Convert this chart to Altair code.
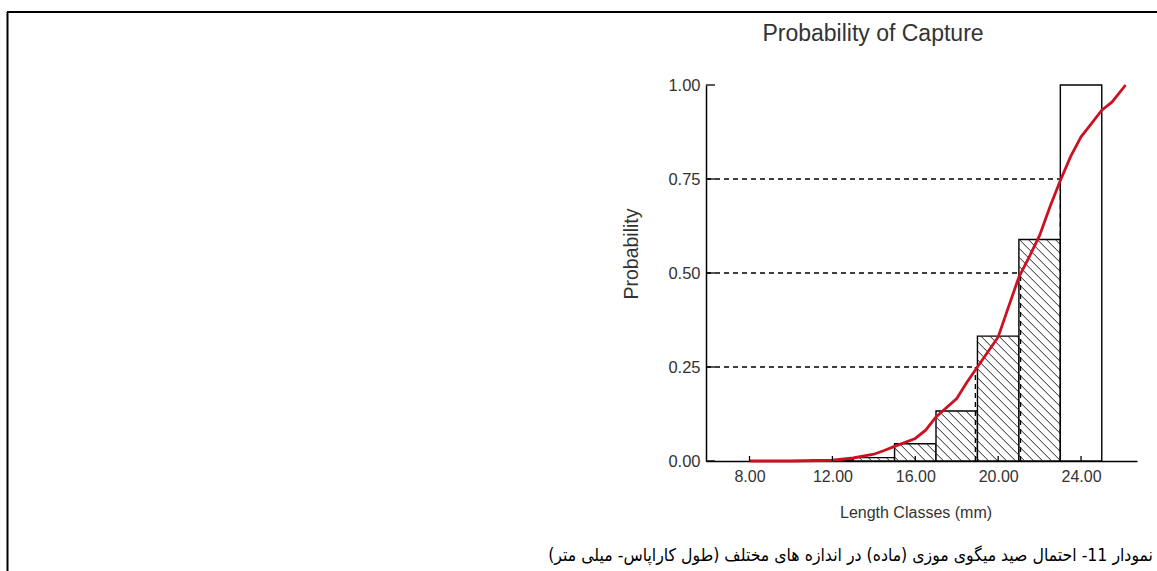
import altair as alt
import pandas as pd
import numpy as np

# Length classes (mm) and the fraction captured in each
class_lo = [11, 13, 15, 17, 19, 21, 23]
class_hi = [13, 15, 17, 19, 21, 23, 25]
capture_prob = [0.003, 0.009, 0.046, 0.133, 0.332, 0.589, 1.0]
is_hatched = [True, True, True, True, True, True, False]

# Fitted selection curve
curve_len = [8, 10, 12, 13, 14, 14.5, 15, 16, 16.5, 17, 18, 18.5, 19, 19.5, 20,
             20.5, 21, 21.5, 22, 22.5, 23, 23.5, 24, 24.5, 25, 25.5, 26.15]
curve_prob = [0, 0, 0.002, 0.008, 0.018, 0.028, 0.039, 0.06, 0.082, 0.117, 0.166,
              0.21, 0.25, 0.29, 0.33, 0.41, 0.489, 0.543, 0.60, 0.676, 0.746,
              0.81, 0.862, 0.897, 0.933, 0.955, 1.0]

# L25, L50, L75
level_prob = [0.25, 0.5, 0.75]
level_len = [18.9, 21.08, 23.0]

x_ticks = [8, 12, 16, 20, 24]
y_ticks = [0, 0.25, 0.5, 0.75, 1.0]

XMIN, XMAX = 5.9, 26.7
W, H = 431, 376
LEFT, TOP = 706, 85
FULL_W, FULL_H = 1157, 571
FONT = "Liberation Sans"
TXT = "#333333"

bars = pd.DataFrame({"lo": class_lo, "hi": class_hi, "p": capture_prob,
                     "hatch": is_hatched})
curve = pd.DataFrame({"len": curve_len, "p": curve_prob})

# diagonal hatch segments clipped to each hatched bar
px_per_mm = W / (XMAX - XMIN)
slope = px_per_mm / H          # probability per mm for a 45 degree line
step = 9 / px_per_mm           # spacing of hatch lines in mm
segs = []
for lo, hi, p, h in zip(class_lo, class_hi, capture_prob, is_hatched):
    if not h:
        continue
    k0 = int(np.floor(lo / step))
    k1 = int(np.ceil((hi + p / slope) / step))
    for k in range(k0, k1 + 1):
        t = k * step
        a = max(lo, t - p / slope)
        b = min(hi, t)
        if b - a > 1e-6:
            segs.append({"x": a, "y": slope * (t - a), "x2": b, "y2": slope * (t - b)})
hatch = pd.DataFrame(segs)

guides_h = pd.DataFrame({"x": [XMIN] * 3, "x2": level_len, "y": level_prob})
guides_v = pd.DataFrame({"x": level_len, "y": [0] * 3, "y2": level_prob})

xs = alt.Scale(domain=[XMIN, XMAX], nice=False, zero=False)
ys = alt.Scale(domain=[0, 1], nice=False)
xax = alt.Axis(values=x_ticks, format=".2f", ticks=False, grid=False, title=None,
               labelPadding=7, labelFontSize=16, labelColor=TXT, labelFont=FONT,
               domainColor="black", domainWidth=1.5, labelFlush=False)
yax = alt.Axis(values=y_ticks, format=".2f", ticks=False, grid=False, title=None,
               labelPadding=6, labelFontSize=16.5, labelColor=TXT, labelFont=FONT,
               domainColor="black", domainWidth=1.5)


def X(f):
    return alt.X(f, type="quantitative", scale=xs, axis=xax)


def Y(f):
    return alt.Y(f, type="quantitative", scale=ys, axis=yax)


bar_layer = alt.Chart(bars).mark_rect(fill="white", stroke="black", strokeWidth=1.4).encode(
    x=X("lo"), x2="hi", y=Y("p"), y2=alt.datum(0))

hatch_layer = alt.Chart(hatch).mark_rule(color="#222222", strokeWidth=1).encode(
    x=X("x"), x2="x2", y=Y("y"), y2="y2")

dash_h = alt.Chart(guides_h).mark_rule(color="black", strokeWidth=1.3, strokeDash=[5, 4]).encode(
    x=X("x"), x2="x2", y=Y("y"))
dash_v = alt.Chart(guides_v).mark_rule(color="black", strokeWidth=1.3, strokeDash=[5, 4]).encode(
    x=X("x"), y=Y("y"), y2="y2")

curve_layer = alt.Chart(curve).mark_line(color="#cc1122", strokeWidth=2.8).encode(
    x=X("len"), y=Y("p"))

ytick_layer = alt.Chart(pd.DataFrame({"v": y_ticks})).mark_rule(color="black", strokeWidth=1.3).encode(
    y=Y("v"), x=alt.value(0), x2=alt.value(9))
xtick_layer = alt.Chart(pd.DataFrame({"v": x_ticks})).mark_rule(color="black", strokeWidth=1.3).encode(
    x=X("v"), y=alt.value(H), y2=alt.value(H - 5))

title_layer = alt.Chart(pd.DataFrame({"t": [0]})).mark_text(
    text="Probability of Capture", font=FONT, fontSize=23, color=TXT,
    align="center", baseline="alphabetic").encode(
    x=alt.value(873 - LEFT), y=alt.value(41 - TOP))

ytitle_layer = alt.Chart(pd.DataFrame({"t": [0]})).mark_text(
    text="Probability", font=FONT, fontSize=19.5, color=TXT, angle=270,
    align="center", baseline="middle").encode(
    x=alt.value(632 - LEFT), y=alt.value(254 - TOP))

xtitle_layer = alt.Chart(pd.DataFrame({"t": [0]})).mark_text(
    text="Length Classes (mm)", font=FONT, fontSize=16, color=TXT,
    align="center", baseline="middle").encode(
    x=alt.value(916 - LEFT), y=alt.value(513 - TOP))

caption_text = "\u200fنمودار 11- احتمال صید میگوی موزی (ماده) در اندازه های مختلف (طول کاراپاس- میلی متر)\u200f"
caption_layer = alt.Chart(pd.DataFrame({"t": [0]})).mark_text(
    text=caption_text, font="DejaVu Sans Condensed", fontSize=17.5, color="black",
    align="right", baseline="alphabetic").encode(
    x=alt.value(1153 - LEFT), y=alt.value(561 - TOP))

# frame around the figure: top and left edges
frame_top = alt.Chart(pd.DataFrame({"t": [0]})).mark_rule(color="black", strokeWidth=2).encode(
    x=alt.value(7 - LEFT), x2=alt.value(FULL_W - LEFT), y=alt.value(12 - TOP))
frame_left = alt.Chart(pd.DataFrame({"t": [0]})).mark_rule(color="black", strokeWidth=2).encode(
    x=alt.value(7.5 - LEFT), y=alt.value(12 - TOP), y2=alt.value(FULL_H - TOP))

chart = alt.layer(
    bar_layer, hatch_layer, dash_h, dash_v, curve_layer, ytick_layer, xtick_layer,
    title_layer, ytitle_layer, xtitle_layer, caption_layer, frame_top, frame_left
).properties(
    width=W, height=H,
    autosize=alt.AutoSizeParams(type="none"),
    padding={"left": LEFT, "top": TOP, "right": FULL_W - LEFT - W, "bottom": FULL_H - TOP - H},
    background="white",
).configure_view(stroke=None)

chart.save("out.html", embed_options={"renderer": "svg", "actions": False})
